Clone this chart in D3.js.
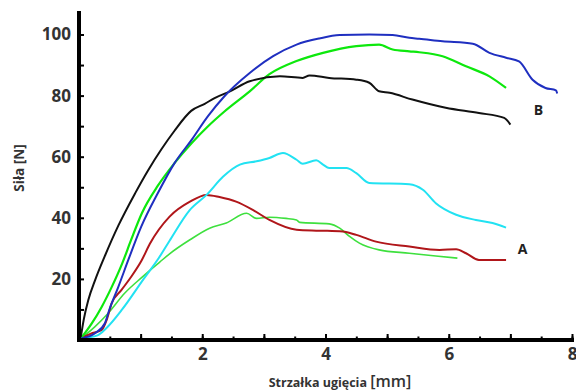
<!DOCTYPE html>
<html>
<head>
<meta charset="utf-8">
<script src="https://cdn.jsdelivr.net/npm/d3@7"></script>
<style>
  body { margin: 0; background: #fff; }
  text { font-family: "Open Sans", "Liberation Sans", sans-serif; font-weight: bold; fill: #333; }
</style>
</head>
<body>
<div id="chart"></div>
<script>
// values: [deflection mm, force N]
var blackB = [[0.03,1],[0.08,7],[0.15,13],[0.26,19.5],[0.42,27.5],[0.64,37.5],[0.91,48],[1.12,55.5],[1.34,62.5],
  [1.55,68.5],[1.82,75],[2.04,77.3],[2.2,79.2],[2.45,81.4],[2.77,84.7],[3.26,86.3],[3.63,85.8],[3.74,86.6],
  [4.06,85.8],[4.5,85.2],[4.71,84.2],[4.87,81.4],[5.04,80.9],[5.41,78.7],[5.95,76],[6.49,74.3],[6.9,72.7],[7.0,70.5]];
var blueB = [[0.03,0.5],[0.26,2.2],[0.42,5.5],[0.5,10.4],[0.64,17.5],[0.8,26.2],[1.01,37.1],[1.28,48.1],[1.55,57.9],
  [1.83,65.6],[2.09,73.2],[2.36,79.8],[2.77,87.4],[3.15,92.9],[3.53,96.7],[3.9,98.7],[4.23,99.8],
  [4.71,100],[5.09,99.8],[5.36,98.9],[5.52,98.6],[5.9,97.8],[6.39,97],[6.66,94],[6.93,92.4],[7.14,91.2],
  [7.36,85.2],[7.57,82.5],[7.74,81.7],[7.76,80.7]];
var greenB = [[0.03,0.5],[0.21,5.5],[0.37,10.9],[0.53,17.3],[0.7,25],[0.85,33],[1.02,41.5],[1.28,50.5],
  [1.55,57.9],[1.83,64.5],[2.09,69.9],[2.36,74.8],[2.77,81.4],[3.09,87],[3.53,91.3],[3.96,94],
  [4.5,96.2],[4.87,96.7],[5.09,95.1],[5.36,94.5],[5.52,94.2],[5.9,92.9],[6.28,89.6],[6.66,86.3],[6.93,82.5]];
var cyan = [[0.03,0.5],[0.3,1.5],[0.45,4],[0.7,10],[1.05,20],[1.3,27],[1.47,32.5],[1.8,42.6],[2.07,47.5],
  [2.34,53.5],[2.61,57.4],[2.88,58.5],[3.09,59.6],[3.31,61.2],[3.53,59],[3.63,57.7],[3.85,58.8],[3.96,57.4],
  [4.06,56.3],[4.34,56.3],[4.5,54.6],[4.71,51.4],[5.36,51],[5.58,49.2],[5.79,44.8],[6.12,41],[6.44,39.3],
  [6.71,38.3],[6.93,36.8]];
var redA = [[0.03,0.5],[0.21,2.2],[0.37,3.3],[0.45,6.6],[0.53,12],[0.69,16.4],[0.85,20.8],[1.02,26.2],[1.15,31.5],
  [1.47,40.4],[1.8,45.3],[2.07,47.5],[2.28,46.8],[2.55,45.3],[2.82,42.6],[3.09,39.3],[3.53,36.1],[3.9,35.8],
  [4.28,35.5],[4.5,34.4],[4.82,32.2],[5.36,30.6],[5.85,29.5],[6.12,29.7],[6.28,28.4],[6.49,26.2],[6.93,26.2]];
var greenA = [[0.03,0.5],[0.26,4.4],[0.47,8.7],[0.74,15.3],[1.02,20.5],[1.31,25.5],[1.47,28.2],[1.8,32.8],
  [2.12,36.6],[2.39,38.3],[2.72,41.5],[2.88,39.8],[3.09,40.2],[3.36,39.8],[3.53,39.3],[3.58,38.5],[4.06,38],
  [4.23,36.6],[4.39,33.9],[4.55,31.7],[4.87,29.5],[5.36,28.4],[5.79,27.5],[6.14,26.8]];

var series = [
  {name:"greenA", data:greenA, color:"#3ee03e", w:1.6},
  {name:"redA", data:redA, color:"#b0161a", w:2},
  {name:"cyan", data:cyan, color:"#22e2f2", w:2},
  {name:"greenB", data:greenB, color:"#0de80d", w:2.2},
  {name:"blackB", data:blackB, color:"#111111", w:2},
  {name:"blueB", data:blueB, color:"#1f2fc0", w:2}
];
var curveLabels = [{text:"A", x:7.12, y:28}, {text:"B", x:7.38, y:73.5}];

var xMinor = d3.range(0.5, 8.01, 0.5);
var xMajor = [1,2,3,4,5,6,7,8];
var yTicks = [10,20,30,40,50,60,70,80,90,100];

var width = 576, height = 391;
var svg = d3.select("#chart").append("svg")
  .attr("width", width)
  .attr("height", height);

var x_scale = d3.scaleLinear().domain([0,8]).range([79,572]);
var y_scale = d3.scaleLinear().domain([0,100]).range([340,34.5]);

// curves
var line_generator = d3.line()
  .curve(d3.curveMonotoneX)
  .x(d=>x_scale(d[0]))
  .y(d=>y_scale(d[1]));

svg.selectAll(".curve")
  .data(series).enter()
  .append("path")
  .attr("class","curve")
  .attr("d",d=>line_generator(d.data))
  .style("fill","none")
  .style("stroke",d=>d.color)
  .style("stroke-width",d=>d.w)
  .style("stroke-linejoin","round");

// axes, ticks pointing inward
var x_minor = svg.append("g")
  .attr("transform","translate(0,340)")
  .call(d3.axisBottom(x_scale).tickValues(xMinor).tickSize(-3.5).tickFormat(""));
var x_major = svg.append("g")
  .attr("transform","translate(0,340)")
  .call(d3.axisBottom(x_scale).tickValues(xMajor).tickSize(-6).tickPadding(8)
    .tickFormat(d=>d%2==0?d:""));
var y_axis = svg.append("g")
  .attr("transform","translate(79,0)")
  .call(d3.axisLeft(y_scale).tickValues(yTicks).tickSize(-5).tickPadding(8)
    .tickFormat(d=>d%20==0?d:""));

svg.selectAll(".domain").remove();
svg.selectAll(".tick line").style("stroke","#000").style("stroke-width",2);
svg.selectAll(".tick text").style("font-size","17px").style("fill","#333").style("font-family",null);

svg.append("line")
  .attr("x1",79).attr("x2",79)
  .attr("y1",11).attr("y2",342)
  .style("stroke","#000").style("stroke-width",4);
svg.append("line")
  .attr("x1",77).attr("x2",574)
  .attr("y1",340).attr("y2",340)
  .style("stroke","#000").style("stroke-width",4);

// titles
svg.append("text")
  .attr("transform","translate(24,168) rotate(-90)")
  .attr("text-anchor","middle")
  .style("font-size","13.5px")
  .text("Siła [N]");

var xt = svg.append("text")
  .attr("x",340).attr("y",387)
  .attr("text-anchor","middle");
xt.append("tspan").style("font-size","12.5px").text("Strzałka ugięcia ");
xt.append("tspan").style("font-size","16px").style("font-weight","600").text(" [mm]");

svg.selectAll(".curve-label")
  .data(curveLabels).enter()
  .append("text")
  .attr("class","curve-label")
  .attr("x",d=>x_scale(d.x))
  .attr("y",d=>y_scale(d.y))
  .style("font-size","14px")
  .style("fill","#222")
  .text(d=>d.text);
</script>
</body>
</html>
